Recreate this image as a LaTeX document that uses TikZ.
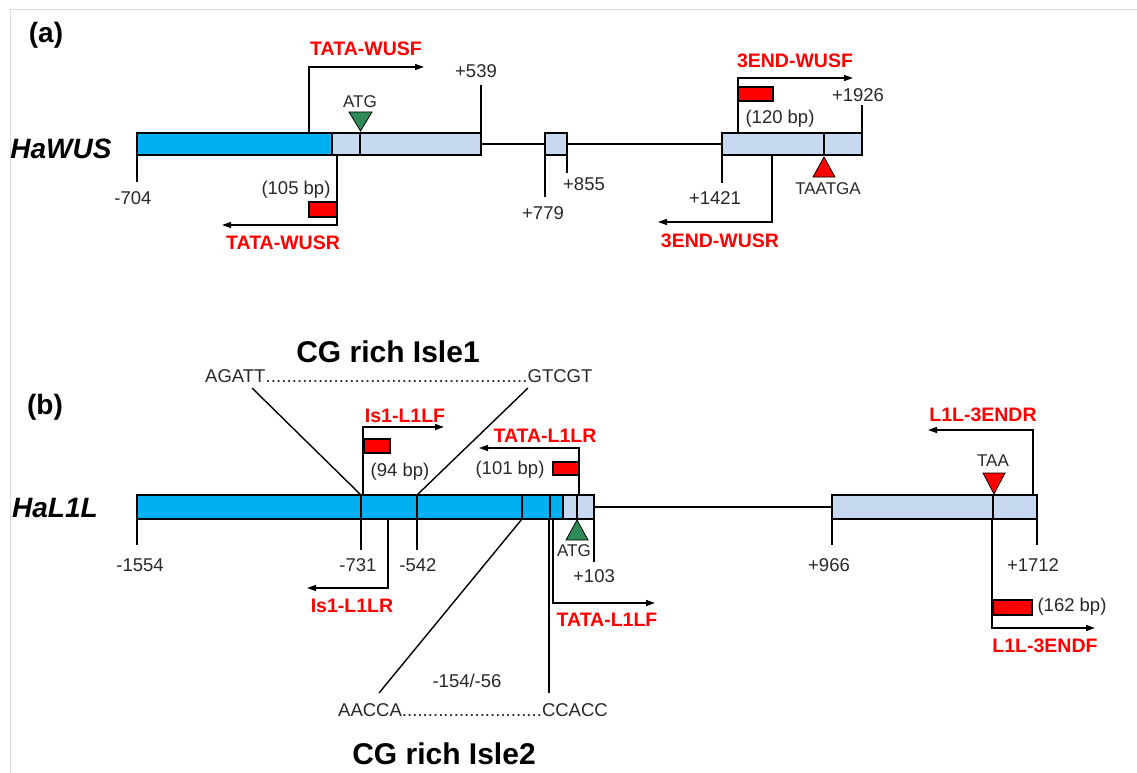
\documentclass[tikz,border=0pt]{standalone}
\usepackage{fontspec}
\setmainfont{Liberation Sans}
\usepackage{xcolor}
\usepackage{tikz}
\usetikzlibrary{arrows.meta,positioning,calc}

\definecolor{dkblue}{RGB}{0,176,240}
\definecolor{ltblue}{RGB}{198,217,241}
\definecolor{atggreen}{RGB}{46,139,87}
\definecolor{txtgray}{RGB}{40,40,40}
\definecolor{framegray}{RGB}{220,220,220}

\newcommand\labsize{\fontsize{18.5}{21}\selectfont}
\newcommand\prmsize{\fontsize{19.5}{22}\selectfont}
\newcommand\smallsize{\fontsize{17}{19}\selectfont}
\newcommand\headsize{\fontsize{28}{31}\selectfont}
\newcommand\islesize{\fontsize{30}{33}\selectfont}
\newcommand\seqdots[1]{\makebox[#1]{\xleaders\hbox{.}\hfill}}

\begin{document}
\begin{tikzpicture}[
  x=1pt, y=-1pt,
  lbl/.style={font=\labsize, text=txtgray, inner sep=0pt},
  sml/.style={font=\smallsize, text=txtgray, inner sep=0pt},
  prm/.style={font=\prmsize\bfseries, text=red, inner sep=0pt},
  head/.style={font=\headsize\bfseries, inner sep=0pt},
  isle/.style={font=\islesize\bfseries, inner sep=0pt},
  gene/.style={font=\headsize\bfseries\itshape, inner sep=0pt},
  bar/.style={draw=black, line width=2.4pt},
  mk/.style={line width=1.3pt},
  tck/.style={line width=1.4pt},
  intron/.style={line width=2.2pt},
  arr/.style={line width=1.4pt, -{Triangle[length=9pt,width=6pt]}},
  amp/.style={draw=black, line width=1.6pt, fill=red},
]
\useasboundingbox (0,0) rectangle (1137,773);
\draw[framegray, line width=1.2pt] (10.5,773) -- (10.5,9.5) -- (1137,9.5);

% ---------- (a) HaWUS ----------
\node[head] (pa) at (46,35) {(a)};
\node[gene] (wus) at (61,149) {HaWUS};
\draw[intron] (481,144) -- (722,144);
\draw[bar, fill=dkblue] (137,133) rectangle (332,155);
\draw[bar, fill=ltblue] (332,133) rectangle (481,155);
\draw[bar, fill=ltblue] (545,133) rectangle (567,155);
\draw[bar, fill=ltblue] (722,133) rectangle (862,155);
\draw[mk] (360,133) -- (360,155);
\draw[mk] (824,133) -- (824,155);

\node[lbl] (a704) at (133,198) {-704};
\node[lbl] (a539) at (476,71) {+539};
\node[lbl] (a779) at (543,213) {+779};
\node[lbl] (a855) at (584,184) {+855};
\node[lbl] (a1421) at (715,198) {+1421};
\node[lbl] (a1926) at (858,95) {+1926};
\draw[tck] (137,155) -- (137,182);
\draw[tck] (481,133) -- (481,85);
\draw[tck] (545,155) -- (545,197);
\draw[tck] (567,155) -- (567,173);
\draw[tck] (722,155) -- (722,183);
\draw[tck] (862,133) -- (862,105);

% start / stop
\node[sml] (atga) at (360,102) {ATG};
\draw[fill=atggreen, line width=0.8pt] (349,112) -- (372,112) -- (360.5,131) -- cycle;
\node[sml] (stopa) at (828,189) {TAATGA};
\draw[fill=red, line width=0.8pt] (813,177) -- (835,177) -- (824,157) -- cycle;

% primers
\coordinate (wf0) at (309,133); \coordinate (wf1) at (424,67);
\draw[arr] (wf0) |- (wf1);
\node[prm] (wusf) at (366,49) {TATA-WUSF};
\coordinate (wr0) at (337,155); \coordinate (wr1) at (222,225);
\draw[arr] (wr0) |- (wr1);
\node[prm] (wusr) at (283,243) {TATA-WUSR};
\draw[amp] (309,202) rectangle (337,217);
\node[lbl] (bp105) at (296,190) {(105 bp)};

\coordinate (ef0) at (738,133); \coordinate (ef1) at (853,78);
\draw[arr] (ef0) |- (ef1);
\node[prm] (endf) at (795,61) {3END-WUSF};
\draw[amp] (738,87) rectangle (773,101);
\node[lbl] (bp120) at (780,119) {(120 bp)};
\coordinate (er0) at (772,155); \coordinate (er1) at (658,222);
\draw[arr] (er0) |- (er1);
\node[prm] (endr) at (720,241) {3END-WUSR};

% ---------- (b) HaL1L ----------
\node[head] (pb) at (45,407) {(b)};
\node[gene] (l1l) at (55,508) {HaL1L};
\node[isle] (isle1) at (388,352) {CG rich Isle1};
\node[lbl, anchor=west] (isq1) at (205,376) {AGATT\seqdots{262pt}GTCGT};
\node[isle] (isle2) at (444,754) {CG rich Isle2};
\node[lbl, anchor=west] (isq2) at (338,710) {AACCA\seqdots{140pt}CCACC};
\node[lbl] (range) at (467,681) {-154/-56};

\draw[intron] (594,507) -- (832,507);
\draw[bar, fill=dkblue] (137,495) rectangle (563,519);
\draw[bar, fill=ltblue] (563,495) rectangle (594,519);
\draw[bar, fill=ltblue] (832,495) rectangle (1037,519);
\foreach \x in {361,417,522,550,577,993}
  \draw[mk] (\x,495) -- (\x,519);

% island borders
\coordinate (i1a) at (252,388); \coordinate (i1b) at (528,388);
\coordinate (i2a) at (379,693); \coordinate (i2b) at (549,693);
\draw[tck] (i1a) -- (361,495);
\draw[tck] (i1b) -- (417,495);
\draw[tck] (522,519) -- (i2a);
\draw[tck] (549,519) -- (i2b);

\node[lbl] (b1554) at (140,565) {-1554};
\node[lbl] (b731) at (358,565) {-731};
\node[lbl] (b542) at (418,565) {-542};
\node[lbl] (b103) at (594,576) {+103};
\node[lbl] (b966) at (829,565) {+966};
\node[lbl] (b1712) at (1033,565) {+1712};
\draw[tck] (137,519) -- (137,545);
\draw[tck] (361,519) -- (361,550);
\draw[tck] (417,519) -- (417,550);
\draw[tck] (594,519) -- (594,562);
\draw[tck] (832,519) -- (832,545);
\draw[tck] (1037,519) -- (1037,545);

% start / stop
\draw[fill=atggreen, line width=0.8pt] (566,540) -- (588,540) -- (577,520) -- cycle;
\node[sml] (atgb) at (574,551) {ATG};
\node[sml] (stopb) at (993,461) {TAA};
\draw[fill=red, line width=0.8pt] (983,473) -- (1005,473) -- (994,494) -- cycle;

% primers
\coordinate (sf0) at (363,495); \coordinate (sf1) at (444,427);
\draw[arr] (sf0) |- (sf1);
\node[prm] (is1f) at (405,416) {Is1-L1LF};
\draw[amp] (364,439) rectangle (390,453);
\node[lbl] (bp94) at (400,472) {(94 bp)};
\coordinate (sr0) at (388,519); \coordinate (sr1) at (307,588);
\draw[arr] (sr0) |- (sr1);
\node[prm] (is1r) at (352,606) {Is1-L1LR};

\coordinate (tr0) at (579,495); \coordinate (tr1) at (479,448);
\draw[arr] (tr0) |- (tr1);
\node[prm] (tatar) at (545,436) {TATA-L1LR};
\draw[amp] (553,462) rectangle (579,475);
\node[lbl] (bp101) at (510,470) {(101 bp)};
\coordinate (tf0) at (553,519); \coordinate (tf1) at (655,603);
\draw[arr] (tf0) |- (tf1);
\node[prm] (tataf) at (607,620) {TATA-L1LF};

\coordinate (lr0) at (1033,495); \coordinate (lr1) at (928,430);
\draw[arr] (lr0) |- (lr1);
\node[prm] (l3r) at (983,415) {L1L-3ENDR};
\coordinate (lf0) at (992,519); \coordinate (lf1) at (1095,628);
\draw[arr] (lf0) |- (lf1);
\node[prm] (l3f) at (1045,646) {L1L-3ENDF};
\draw[amp] (993,600) rectangle (1032,615);
\node[lbl] (bp162) at (1072,607) {(162 bp)};
\end{tikzpicture}
\end{document}
